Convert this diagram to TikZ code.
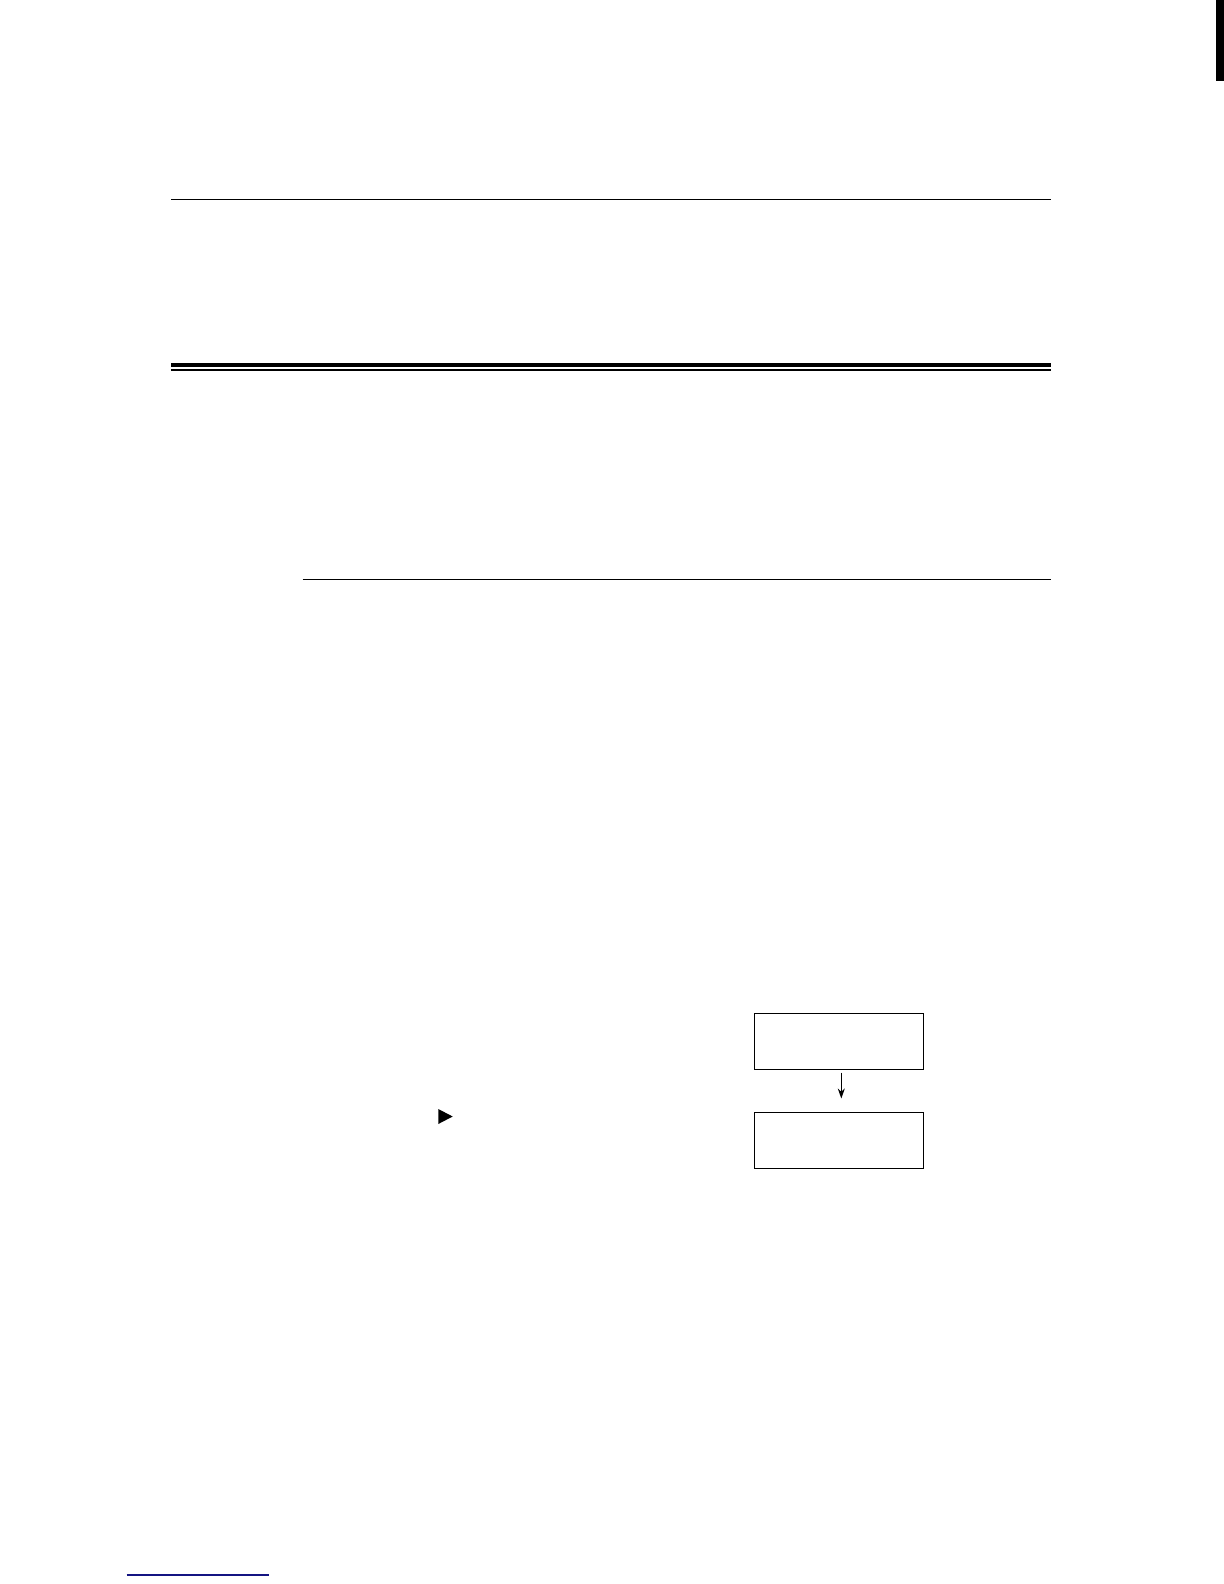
\documentclass[tikz,border=0pt]{standalone}
\usetikzlibrary{arrows.meta}
\definecolor{linkblue}{RGB}{20,20,130}
\tikzset{
  rule/.style={line width=0.7pt,black},
  boxnode/.style={draw,line width=0.7pt,minimum width=84.5pt,minimum height=28pt,inner sep=0pt},
  arr/.style={line width=0.6pt,-{Stealth[length=5pt,width=3.5pt]}}
}
\begin{document}
\begin{tikzpicture}[x=0.5pt,y=-0.5pt]
\useasboundingbox (0,0) rectangle (1224,1584);
% right edge tab
\fill[black] (1216,0) rectangle (1224,81);
% rules
\draw[rule] (171,199.3) -- (1051,199.3);
\fill[black] (171,362.7) rectangle (1051,367);
\draw[line width=0.6pt] (171,370) -- (1051,370);
\draw[rule] (302.7,579.3) -- (1051,579.3);
% boxes
\node[boxnode] (b1) at (838.8,1041.3) {};
\node[boxnode] (b2) at (838.8,1140.3) {};
\coordinate (a1) at (841.3,1072.7);
\coordinate (a2) at (841.3,1098.5);
\draw[arr] (a1) -- (a2);
% triangle marker
\fill[black] (438.3,1109) -- (452.7,1116.5) -- (438.3,1124) -- cycle;
% bottom blue line
\draw[linkblue,line width=0.7pt] (126.7,1575) -- (269,1575);
\end{tikzpicture}
\end{document}
